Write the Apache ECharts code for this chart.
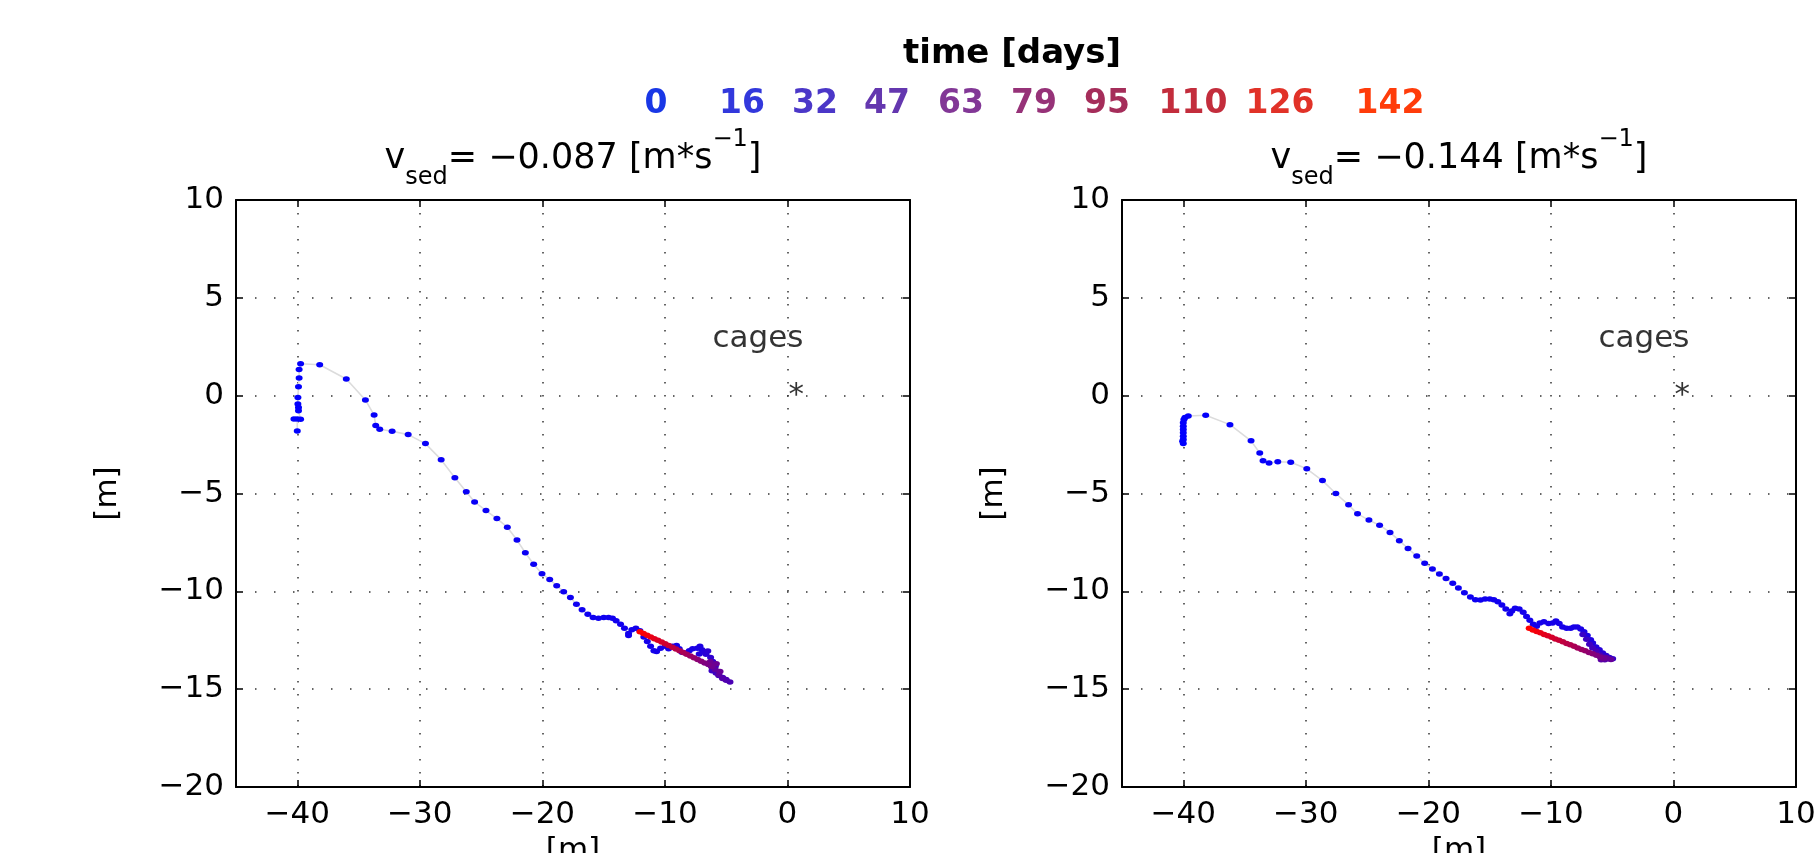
<!DOCTYPE html>
<html><head><meta charset="utf-8">
<script src="https://cdn.jsdelivr.net/npm/echarts@6/dist/echarts.min.js"></script>
<style>html,body{margin:0;padding:0;background:#fff}#c{width:1814px;height:853px}</style>
</head><body><div id="c"></div>
<script>
// ---------------- DATA ----------------
const legendTitle = 'time [days]';
const legendTicks = ['0','16','32','47','63','79','95','110','126','142'];
const panelVsed = ['\u22120.087', '\u22120.144'];
const cageLabels = ['cages', '*'];
const cageX = [-6.2, 0];
const cageY = [2.9, 0];

const leftX = [-40.0,-40.0,-40.27,-39.73,-39.9,-39.9,-39.95,-39.95,-39.9,-39.85,-39.85,-39.73,-38.17,-36.0,-34.44,-33.73,-33.6,-33.27,-32.26,-30.95,-29.54,-28.26,-27.14,-26.21,-25.53,-24.6,-23.71,-22.86,-22.07,-21.39,-20.71,-20.03,-19.4,-18.83,-18.26,-17.71,-17.22,-16.76,-16.29,-15.86,-15.42,-14.99,-14.6,-14.28,-13.98,-13.62,-13.3,-12.97,-12.97,-12.7,-12.37,-12.04,-11.72,-11.44,-11.17,-10.9,-10.68,-10.35,-9.97,-9.7,-9.37,-9.05,-8.83,-8.61,-8.34,-8.01,-7.74,-7.36,-7.14,-6.98,-7.2,-6.8,-6.65,-6.5,-6.27,-6.1,-5.89,-6.16,-5.83,-5.61,-5.29,-5.01,-4.69,
  -5.0,-5.3,-5.6,-5.9,-6.2,-5.5,-5.8,-6.3,
  -6.16,-6.45,-6.75,-7.04,-7.33,-7.63,-7.92,-8.22,-8.51,-8.8,-9.1,-9.39,-9.69,-9.98,-10.27,-10.57,-10.86,-11.16,-11.45,-11.75,-12.04];
const leftY = [-1.8,-1.19,-1.19,-1.21,-0.77,-0.6,-0.43,-0.09,0.46,0.9,1.34,1.63,1.58,0.85,-0.22,-0.99,-1.53,-1.72,-1.82,-1.99,-2.45,-3.27,-4.2,-4.91,-5.43,-5.87,-6.28,-6.72,-7.38,-8.03,-8.62,-9.1,-9.4,-9.71,-10.02,-10.32,-10.66,-10.94,-11.17,-11.34,-11.38,-11.34,-11.34,-11.38,-11.5,-11.68,-11.89,-12.26,-12.16,-11.96,-11.89,-12.02,-12.33,-12.57,-12.81,-13.04,-13.08,-12.91,-12.81,-12.94,-12.81,-12.77,-12.94,-13.11,-13.15,-13.04,-12.94,-12.91,-12.81,-12.98,-13.2,-13.1,-13.21,-13.05,-13.38,-13.59,-13.83,-14.06,-14.17,-14.3,-14.4,-14.51,-14.64,
  -14.55,-14.45,-14.25,-14.0,-13.85,-14.1,-13.7,-13.6,
  -13.83,-13.74,-13.66,-13.57,-13.48,-13.39,-13.3,-13.21,-13.12,-13.04,-12.95,-12.86,-12.77,-12.68,-12.59,-12.5,-12.42,-12.33,-12.24,-12.15,-12.06];
const leftT = [0,0.2,0.4,0.6,0.8,1,1.2,1.4,1.6,1.8,2,2.2,2.5,2.8,3.1,3.4,3.6,3.8,4,4.2,4.4,4.6,4.8,5,5.2,5.4,5.6,5.8,6,6.2,6.4,6.6,6.8,7,7.2,7.4,7.6,7.8,8,8.2,8.4,8.6,8.8,9,9.2,9.4,9.6,9.8,10,10.2,10.4,10.6,10.8,11,11.2,11.4,11.6,11.8,12,12.2,12.4,12.6,12.8,13,13.5,14,14.5,15,15.5,16,
  18,20,22,24,26,28,30,32,34,36,38,40,42,
  44,47,50,53,56,58,60,61,
  62,66,70,74,78,82,86,90,94,98,102,106,110,114,118,122,126,130,134,138,142];

const rightX = [-40.0,-40.05,-40.0,-40.0,-40.0,-40.0,-40.0,-40.0,-39.95,-39.86,-39.59,
  -38.17,-36.19,-34.47,-33.76,-33.49,-33.0,-32.29,-31.23,-29.92,-28.64,-27.55,-26.51,-25.78,-24.85,-23.98,-23.13,-22.37,-21.66,-20.95,-20.3,-19.67,-19.1,-18.56,-18.01,-17.55,-17.06,-16.57,-16.16,-15.75,-15.37,-14.99,-14.66,-14.33,-14.0,-13.68,-13.35,-13.19,-12.92,-12.59,-12.26,-11.99,-11.72,-11.44,-11.17,-10.9,-10.57,-10.19,-9.86,-9.59,-9.32,-9.05,-8.72,-8.39,-8.12,-7.85,-7.57,-7.3,-7.03,-6.76,-6.59,-6.32,-6.05,-5.78,-5.5,-5.23,-4.96,
  -7.4,-7.1,-6.85,-6.6,-6.3,-6.0,-5.7,
  -5.3,-5.6,-5.9,-5.45,-5.1,-5.75,
  -5.67,-5.98,-6.28,-6.59,-6.89,-7.2,-7.5,-7.81,-8.11,-8.42,-8.72,-9.03,-9.33,-9.64,-9.94,-10.25,-10.55,-10.86,-11.16,-11.47,-11.77];
const rightY = [-2.45,-2.33,-2.24,-2.07,-1.9,-1.73,-1.56,-1.39,-1.22,-1.11,-1.04,
  -1.0,-1.48,-2.31,-2.93,-3.32,-3.44,-3.38,-3.4,-3.74,-4.34,-5.0,-5.58,-6.04,-6.36,-6.62,-6.99,-7.41,-7.81,-8.2,-8.57,-8.86,-9.12,-9.34,-9.59,-9.83,-10.07,-10.29,-10.43,-10.44,-10.39,-10.39,-10.43,-10.53,-10.7,-10.9,-11.14,-11.0,-10.87,-10.9,-11.07,-11.28,-11.48,-11.68,-11.79,-11.62,-11.55,-11.65,-11.62,-11.51,-11.65,-11.82,-11.89,-11.89,-11.82,-11.82,-11.92,-12.06,-12.26,-12.47,-12.64,-12.84,-12.98,-13.15,-13.28,-13.38,-13.45,
  -12.2,-12.45,-12.7,-12.9,-13.05,-13.25,-13.35,
  -13.45,-13.5,-13.5,-13.4,-13.48,-13.42,
  -13.42,-13.35,-13.27,-13.19,-13.12,-13.04,-12.97,-12.89,-12.81,-12.73,-12.66,-12.58,-12.5,-12.43,-12.35,-12.27,-12.2,-12.12,-12.05,-11.97,-11.89];
const rightT = [0,0.2,0.4,0.6,0.8,1,1.2,1.4,1.6,1.8,2,2.2,2.5,2.8,3.1,3.4,3.6,3.8,4,4.2,4.4,4.6,4.8,5,5.2,5.4,5.6,5.8,6,6.2,6.4,6.6,6.8,7,7.2,7.4,7.6,7.8,8,8.2,8.4,8.6,8.8,9,9.2,9.4,9.6,9.8,10,10.2,10.4,10.6,10.8,11,11.2,11.4,11.6,11.8,12,12.2,12.4,12.6,12.8,13,13.5,14,14.5,15,15.5,16,
  17,19,21,23,25,27,29,31,33,35,37,39,41,43,
  45,48,51,54,57,60,
  62,66,70,74,78,82,86,90,94,98,102,106,110,114,118,122,126,130,134,138,142];

// ---------------- STYLE / LAYOUT ----------------
const FONT = 'DejaVu Sans';
const FS = 31;
const legendColors = ['#1937e6','#3238dc','#4b37c8','#6437af','#823796','#963278','#a52d5a','#c32d3c','#e13228','#ff3c0a'];
const legendPos = [656, 742, 815, 887, 961, 1034, 1107, 1193, 1280, 1390];
const grids = [
  {left: 236, top: 200, width: 674, height: 587, outerBoundsMode: 'none', containLabel: false},
  {left: 1122, top: 200, width: 674, height: 587, outerBoundsMode: 'none', containLabel: false}
];

function minus(v){ return v < 0 ? '\u2212' + Math.abs(v) : String(v); }
function zip(xs, ys, ts){ return xs.map((x,i)=> ts ? [x, ys[i], ts[i]] : [x, ys[i]]); }

const xAxes = [], yAxes = [];
grids.forEach((g, gi) => {
  xAxes.push({
    type:'value', gridIndex: gi, min:-45, max:10, position:'bottom',
    axisLine:{show:true, onZero:false, lineStyle:{color:'#000', width:2}},
    axisTick:{show:true, inside:true, length:7, lineStyle:{color:'#000', width:1.5}},
    axisLabel:{show:true, showMinLabel:false, color:'#000', fontFamily:FONT, fontSize:FS, margin:12, formatter: minus},
    splitLine:{show:true, lineStyle:{color:'#333', width:1.5, type:[1.5, 11.5]}},
    name:'[m]', nameLocation:'middle', nameGap:48,
    nameTextStyle:{color:'#000', fontFamily:FONT, fontSize:FS}
  });
  xAxes.push({
    type:'value', gridIndex: gi, min:-45, max:10, position:'top',
    axisLine:{show:true, onZero:false, lineStyle:{color:'#000', width:2}},
    axisTick:{show:true, inside:true, length:7, lineStyle:{color:'#000', width:1.5}},
    axisLabel:{show:false}, splitLine:{show:false}
  });
  yAxes.push({
    type:'value', gridIndex: gi, min:-20, max:10, interval:5, position:'left',
    axisLine:{show:true, onZero:false, lineStyle:{color:'#000', width:2}},
    axisTick:{show:true, inside:true, length:7, lineStyle:{color:'#000', width:1.5}},
    axisLabel:{show:true, color:'#000', fontFamily:FONT, fontSize:FS, margin:12, formatter: minus},
    splitLine:{show:true, lineStyle:{color:'#333', width:1.5, type:[1.5, 17.5]}},
    name:'[m]', nameLocation:'middle', nameGap:113,
    nameTextStyle:{color:'#000', fontFamily:FONT, fontSize:FS}
  });
  yAxes.push({
    type:'value', gridIndex: gi, min:-20, max:10, interval:5, position:'right',
    axisLine:{show:true, onZero:false, lineStyle:{color:'#000', width:2}},
    axisTick:{show:true, inside:true, length:7, lineStyle:{color:'#000', width:1.5}},
    axisLabel:{show:false}, splitLine:{show:false}
  });
});

const panels = [[leftX, leftY, leftT], [rightX, rightY, rightT]];
const series = [];
panels.forEach((p, pi) => {
  const ax = pi * 2;
  series.push({
    type:'line', xAxisIndex: ax, yAxisIndex: ax, data: zip(p[0], p[1]),
    showSymbol:false, symbol:'none', silent:true, z:2,
    lineStyle:{color:'#dcdcdc', width:1.6}
  });
  series.push({
    type:'scatter', xAxisIndex: ax, yAxisIndex: ax, data: zip(p[0], p[1], p[2]),
    symbol:'circle', symbolSize:[7, 5.5], z:3,
    itemStyle:{opacity:1}
  });
  series.push({
    type:'scatter', xAxisIndex: ax, yAxisIndex: ax, z:4, symbolSize:0,
    data: cageLabels.map((name, i) => ({value:[cageX[i], cageY[i]], name:name})),
    label:{show:true, position:'right', distance:1, formatter: (d)=>d.name, color:'#000', fontFamily:FONT, fontSize:FS}
  });
});

const richStyles = {
  n:{fontFamily:FONT, fontWeight:'normal', fontSize:35, color:'#000', lineHeight:62},
  sub:{fontFamily:FONT, fontWeight:'normal', fontSize:24, color:'#000', lineHeight:24, verticalAlign:'bottom'},
  sup:{fontFamily:FONT, fontWeight:'normal', fontSize:24, color:'#000', lineHeight:36, verticalAlign:'top'}
};
const titles = grids.map((g, gi) => ({
  text: '{n|v}{sub|sed}{n|= ' + panelVsed[gi] + ' [m*s}{sup|\u22121}{n|]}',
  left: g.left + g.width/2, top: 128, textAlign:'center', padding:0,
  textStyle:{fontWeight:'normal', rich: richStyles}
}));

const graphic = [{
  type:'text', x:1012, y:54,
  style:{text: legendTitle, fontFamily:FONT, fontWeight:'bold', fontSize:34, fill:'#000', align:'center', verticalAlign:'middle'}
}].concat(legendTicks.map((t, i) => ({
  type:'text', x: legendPos[i], y:104,
  style:{text:t, fontFamily:FONT, fontWeight:'bold', fontSize:33, fill: legendColors[i], align:'center', verticalAlign:'middle'}
})));

const chart = echarts.init(document.getElementById('c'), null, {renderer:'canvas'});
chart.setOption({
  backgroundColor:'#fff',
  animation:false,
  title: titles,
  grid: grids,
  xAxis: xAxes,
  yAxis: yAxes,
  visualMap: {type:'continuous', show:false, dimension:2, min:0, max:142, seriesIndex:[1,4], inRange:{color:['#0000ff','#ff0000']}},
  graphic: graphic,
  series: series
});
</script></body></html>
